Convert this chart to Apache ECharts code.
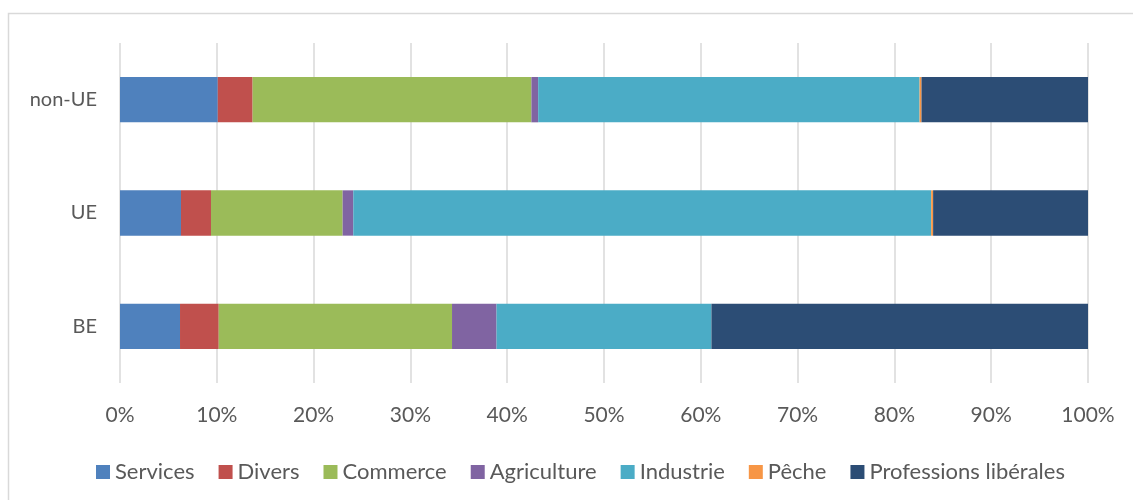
<!DOCTYPE html>
<html>
<head>
<meta charset="utf-8">
<script src="https://cdn.jsdelivr.net/npm/echarts@6/dist/echarts.min.js"></script>
<style>html,body{margin:0;padding:0;background:#fff}#c{width:1133px;height:500px}</style>
</head>
<body>
<div id="c"></div>
<script>
var categories = ['BE', 'UE', 'non-UE'];
var tickLabels = ['0%','10%','20%','30%','40%','50%','60%','70%','80%','90%','100%'];
var seriesNames = ['Services', 'Divers', 'Commerce', 'Agriculture', 'Industrie', 'Pêche', 'Professions libérales'];
var services    = [6.2, 6.3, 10.1];
var divers      = [4.0, 3.1, 3.6];
var commerce    = [24.1, 13.6, 28.8];
var agriculture = [4.6, 1.1, 0.7];
var industrie   = [22.2, 59.7, 39.4];
var peche       = [0.0, 0.2, 0.2];
var professions = [38.9, 16.0, 17.2];

var values = [services, divers, commerce, agriculture, industrie, peche, professions];
var colors = ['#4F81BD', '#C0504D', '#9BBB59', '#8064A2', '#4BACC6', '#F79646', '#2C4D75'];
var font = 'Lato, "Noto Sans", sans-serif';

var chart = echarts.init(document.getElementById('c'), null, {renderer: 'canvas'});
chart.setOption({
  animation: false,
  backgroundColor: '#fff',
  graphic: [{
    type: 'rect', silent: true,
    shape: {x: 8.5, y: 13.5, width: 1200, height: 600},
    style: {fill: 'none', stroke: '#d9d9d9', lineWidth: 1.5}
  }],
  grid: {left: 120, right: 45, top: 43, bottom: 117, containLabel: false},
  legend: {
    left: 91, top: 456,
    itemWidth: 14, itemHeight: 14, itemGap: 24,
    icon: 'rect',
    textStyle: {fontFamily: font, fontSize: 22, color: '#595959'},
    data: seriesNames
  },
  xAxis: {
    type: 'value', min: 0, max: 100, interval: 10,
    axisLine: {show: false}, axisTick: {show: false},
    splitLine: {show: true, lineStyle: {color: '#d9d9d9', width: 1.5}},
    axisLabel: {
      margin: 22, fontFamily: font, fontSize: 21, color: '#595959',
      formatter: function (v) { return tickLabels[Math.round(v / 10)]; }
    }
  },
  yAxis: {
    type: 'category', data: categories,
    axisLine: {show: false}, axisTick: {show: false},
    axisLabel: {margin: 23, fontFamily: font, fontSize: 20, color: '#595959'}
  },
  series: seriesNames.map(function (n, i) {
    return {
      name: n, type: 'bar', stack: 'total',
      barCategoryGap: '60%',
      itemStyle: {color: colors[i]},
      data: values[i]
    };
  })
});
</script>
</body>
</html>
